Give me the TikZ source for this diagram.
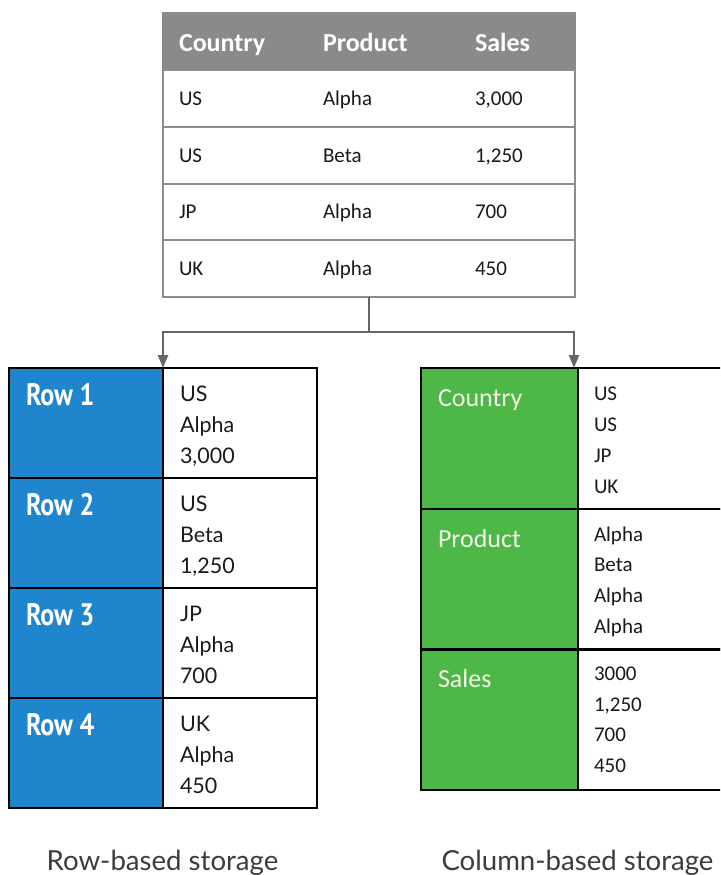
\documentclass[tikz,border=0pt]{standalone}
\usepackage{fontspec}
\setmainfont{Carlito}
\newfontfamily\rowfont[FakeStretch=0.84]{PT Sans}
\newfontfamily\datafont{Lato}
\usetikzlibrary{arrows.meta}

\definecolor{hdrgray}{HTML}{8A8A8A}
\definecolor{rulegray}{HTML}{8C8C8C}
\definecolor{rowblue}{HTML}{1F86CE}
\definecolor{colgreen}{HTML}{4DB848}
\definecolor{conngray}{HTML}{666666}
\definecolor{ink}{HTML}{1A1A1A}
\definecolor{cream}{HTML}{F4F4E6}

% one node per text line: name, style, x, first baseline, line gap, lines
\newcommand\linestack[6]{%
  \foreach \t [count=\k from 0] in {#6} {\node[#2] (#1-\k) at (#3,{#4+\k*#5}) {\t};}}

\begin{document}
\begin{tikzpicture}[x=1pt,y=-1pt,
  cellbox/.style={anchor=north west, inner sep=0pt, outer sep=0pt},
  hdrbox/.style={cellbox, fill=hdrgray, draw=hdrgray, line width=1.2pt,
    minimum width=412pt, minimum height=57pt},
  tblrow/.style={cellbox, fill=white, draw=rulegray, line width=1.2pt,
    minimum width=412pt, minimum height=57pt},
  bluecell/.style={cellbox, fill=rowblue, draw=black, line width=2.4pt,
    minimum width=154pt, minimum height=110pt},
  rowcell/.style={cellbox, fill=white, draw=black, line width=2.4pt,
    minimum width=154pt, minimum height=110pt},
  greencell/.style={cellbox, fill=colgreen, draw=black, line width=2.4pt,
    minimum width=157pt, minimum height=140.7pt},
  colcell/.style={cellbox, fill=white, draw=black, line width=2.4pt,
    minimum width=170pt, minimum height=140.7pt},
  txtbase/.style={anchor=base west, inner sep=0pt, outer sep=0pt},
  hdrtext/.style={txtbase, text=white, font=\fontsize{26}{30}\selectfont\bfseries},
  tbltext/.style={txtbase, text=ink, font=\fontsize{21}{25}\selectfont},
  rowlabel/.style={txtbase, text=white, font=\rowfont\fontsize{31}{35}\selectfont\bfseries},
  rowdata/.style={txtbase, text=ink, font=\datafont\fontsize{21.5}{25}\selectfont},
  collabel/.style={txtbase, text=cream, font=\fontsize{26}{30}\selectfont},
  coldata/.style={txtbase, text=ink, font=\fontsize{21}{25}\selectfont},
  captext/.style={anchor=base, inner sep=0pt, text=ink!85, font=\datafont\fontsize{27.6}{32}\selectfont},
  conn/.style={draw=conngray, line width=2.4pt},
  arr/.style={-{Triangle[length=13pt,width=10pt]}}
]
\useasboundingbox (0,0) rectangle (720,875);
\clip (0,0) rectangle (720,875);

% ---- source table ----
\node[hdrbox] (hdr) at (163,13) {};
\node[tblrow] (r1) at (163,70) {};
\node[tblrow] (r2) at (163,127) {};
\node[tblrow] (r3) at (163,184) {};
\node[tblrow] (r4) at (163,240) {};

\node[hdrtext] (hc) at (179,51.5) {Country};
\node[hdrtext] (hp) at (323,51.5) {Product};
\node[hdrtext] (hs) at (475,51.5) {Sales};

\node[tbltext] (t1c) at (179,105) {US};
\node[tbltext] (t1p) at (323,105) {Alpha};
\node[tbltext] (t1s) at (475,105) {3,000};
\node[tbltext] (t2c) at (179,162) {US};
\node[tbltext] (t2p) at (323,162) {Beta};
\node[tbltext] (t2s) at (475,162) {1,250};
\node[tbltext] (t3c) at (179,218) {JP};
\node[tbltext] (t3p) at (323,218) {Alpha};
\node[tbltext] (t3s) at (475,218) {700};
\node[tbltext] (t4c) at (179,275) {UK};
\node[tbltext] (t4p) at (323,275) {Alpha};
\node[tbltext] (t4s) at (475,275) {450};

% ---- row-based storage ----
\node[rowcell] (rw1) at (163,368) {};
\node[rowcell] (rw2) at (163,478) {};
\node[rowcell] (rw3) at (163,588) {};
\node[rowcell] (rw4) at (163,698) {};
\node[bluecell] (rb1) at (9,368) {};
\node[bluecell] (rb2) at (9,478) {};
\node[bluecell] (rb3) at (9,588) {};
\node[bluecell] (rb4) at (9,698) {};

\node[rowlabel] (rl1) at (26,405) {Row 1};
\node[rowlabel] (rl2) at (26,515) {Row 2};
\node[rowlabel] (rl3) at (26,625) {Row 3};
\node[rowlabel] (rl4) at (26,735) {Row 4};

\linestack{d1}{rowdata}{180}{401}{31}{US,Alpha,{3,000}}
\linestack{d2}{rowdata}{180}{511}{31}{US,Beta,{1,250}}
\linestack{d3}{rowdata}{180}{621}{31}{JP,Alpha,700}
\linestack{d4}{rowdata}{180}{731}{31}{UK,Alpha,450}

% ---- column-based storage ----
\node[colcell] (cw1) at (578,368) {};
\node[colcell] (cw2) at (578,508.7) {};
\node[colcell] (cw3) at (578,649.4) {};
\node[greencell] (cg1) at (421,368) {};
\node[greencell] (cg2) at (421,508.7) {};
\node[greencell] (cg3) at (421,649.4) {};

\node[collabel] (cl1) at (438,406.5) {Country};
\node[collabel] (cl2) at (438,547) {Product};
\node[collabel] (cl3) at (438,687.5) {Sales};

\linestack{e1}{coldata}{594}{400}{31}{US,US,JP,UK}
\linestack{e2}{coldata}{594}{541}{30.7}{Alpha,Beta,Alpha,Alpha}
\linestack{e3}{coldata}{594}{680.5}{30.7}{3000,{1,250},700,450}

% ---- connectors ----
\coordinate (lvl) at (0,332);
\draw[conn] (r4.south) -- (r4.south |- lvl) coordinate (fork);
\draw[conn,arr] (fork) -| (rb1.north east);
\draw[conn,arr] (fork) -| ([xshift=-4pt]cg1.north east);

% ---- captions ----
\node[captext] (cap1) at (162.5,870) {Row-based storage};
\node[captext] (cap2) at (577.5,870) {Column-based storage};
\end{tikzpicture}
\end{document}
